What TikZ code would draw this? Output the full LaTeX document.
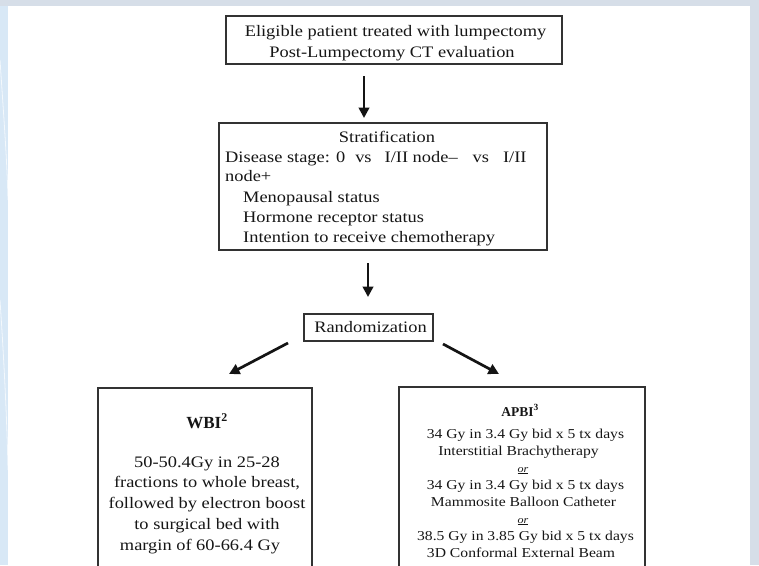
\documentclass[tikz,border=0pt]{standalone}
\usepackage{fontspec}
\setmainfont{Liberation Serif}[FakeStretch=1.15]
\newfontfamily\plainserif{Liberation Serif}
\usetikzlibrary{arrows.meta}
\definecolor{boxc}{RGB}{50,50,50}
\definecolor{arrc}{RGB}{20,20,20}
\definecolor{txtc}{RGB}{22,22,22}
\definecolor{bandc}{RGB}{214,222,232}
\definecolor{stripc}{RGB}{216,232,246}
\newcommand\fsA{\fontsize{16}{20}\selectfont}
\newcommand\fsB{\fontsize{13.6}{17}\selectfont}
\newcommand\orline{{\fontsize{10.5}{12}\selectfont\underline{\textit{or}}}}
\begin{document}
\begin{tikzpicture}[x=1pt,y=-1pt,
  box/.style={draw=boxc, line width=1.1pt, inner sep=0pt},
  txt/.style={inner sep=0pt, anchor=base, text=txtc, font=\fsA},
  txtl/.style={txt, anchor=base west},
  txts/.style={txt, font=\fsB},
  arr/.style={line width=2.7pt, draw=arrc, -{Triangle[length=10.5pt,width=10.5pt]}}]
\useasboundingbox (0,0) rectangle (759,565);
\clip (0,0) rectangle (759,565);
% background
\fill[stripc] (0,0) rectangle (759,565);
\fill[bandc] (0,0) rectangle (759,6);
\fill[bandc] (750,0) rectangle (759,565);
\fill[white] (8,6) rectangle (750,565);
\draw[white, line width=0.8pt, opacity=0.7] (0,60) .. controls (4,120) and (7,160) .. (8,200);
\draw[white, line width=0.8pt, opacity=0.7] (0,300) .. controls (4,360) and (7,420) .. (8,470);
% boxes
\node[box, minimum width=336pt, minimum height=48pt] (b1) at (394,40) {};
\node[box, minimum width=328pt, minimum height=127pt] (b2) at (383,186.5) {};
\node[box, minimum width=129pt, minimum height=27pt] (b3) at (368.5,327.5) {};
\node[box, minimum width=214pt, minimum height=212pt] (b4) at (205,494) {};
\node[box, minimum width=246pt, minimum height=213pt] (b5) at (522,493.5) {};
% box 1 text
\node[txt] (t1) at (395.5,36) {Eligible patient treated with lumpectomy};
\node[txt] (t2) at (392,57) {Post-Lumpectomy CT evaluation};
% box 2 text
\node[txt] (s0) at (387,142) {Stratification};
\node[txtl] (s1) at (225,162) {Disease stage: 0\hspace{10pt}vs\hspace{13pt}I/II node–\hspace{15pt}vs\hspace{14pt}I/II};
\node[txtl] (s2) at (225,181) {node+};
\node[txtl] (s3) at (243,202) {Menopausal status};
\node[txtl] (s4) at (243,222) {Hormone receptor status};
\node[txtl] (s5) at (243,242) {Intention to receive chemotherapy};
% randomization
\node[txt] (r0) at (370.5,332) {Randomization};
% WBI
\node[txt, font=\plainserif\fontsize{17}{19}\selectfont\bfseries] (w0) at (207,428) {WBI\textsuperscript{2}};
\node[txt] (w1) at (207,467) {50-50.4Gy in 25-28};
\node[txt] (w2) at (207,487.5) {fractions to whole breast,};
\node[txt] (w3) at (207,508) {followed by electron boost};
\node[txt] (w4) at (207,529) {to surgical bed with};
\node[txt] (w5) at (200,550) {margin of 60-66.4 Gy};
% APBI
\node[txt, font=\plainserif\fontsize{13.5}{15}\selectfont\bfseries] (p0) at (520,416) {APBI\textsuperscript{3}};
\node[txts] (p1) at (525.5,438) {34 Gy in 3.4 Gy bid x 5 tx days};
\node[txts] (p2) at (518.5,455) {Interstitial Brachytherapy};
\node[txts] (p3) at (523,472) {\orline};
\node[txts] (p4) at (525.5,489) {34 Gy in 3.4 Gy bid x 5 tx days};
\node[txts] (p5) at (523.5,506) {Mammosite Balloon Catheter};
\node[txts] (p6) at (523,523) {\orline};
\node[txts] (p7) at (525.5,540) {38.5 Gy in 3.85 Gy bid x 5 tx days};
\node[txts] (p8) at (521,557) {3D Conformal External Beam};
% arrow endpoints
\coordinate (a1s) at (364,76);
\coordinate (a1e) at (364,118);
\coordinate (a2s) at (368,263);
\coordinate (a2e) at (368,297);
\coordinate (a3s) at (288,343);
\coordinate (a3e) at (229,374);
\coordinate (a4s) at (443,344);
\coordinate (a4e) at (499,374);
\draw[arr] (a1s) -- (a1e);
\draw[arr] (a2s) -- (a2e);
\draw[arr] (a3s) -- (a3e);
\draw[arr] (a4s) -- (a4e);
\end{tikzpicture}
\end{document}
